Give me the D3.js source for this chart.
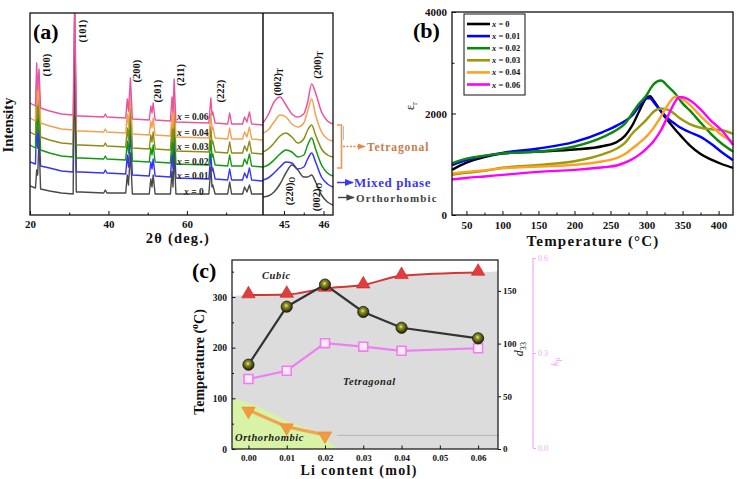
<!DOCTYPE html>
<html><head><meta charset="utf-8">
<script src="https://cdn.jsdelivr.net/npm/d3@7"></script>
<style>
body{margin:0;background:#fff;}
svg text{font-family:"Liberation Serif","Times New Roman",serif;}
</style></head><body>
<svg id="chart" width="744" height="479"></svg>
<script>
// ================= DATA =================
// (a) XRD patterns (stacked, arbitrary units)
const xrdSeries = ["0", "0.01", "0.02", "0.03", "0.04", "0.06"];
const xrdAngles = [20,21.4,21.7,21.95,22.3,22.7,25,28,31.0,31.4,31.8,33,38.8,39.2,39.6,44.4,44.8,45.1,45.6,46.1,50.4,50.8,51.1,51.4,51.9,55.8,56.2,56.45,56.75,57.2,65.6,66.1,66.4,66.6,67.2,70.4,70.9,71.4,74.2,74.7,75.3,75.95,76.5,79.4];
const xrd_x000 = [29,27,45,40,75,26,24,22,21,168,23,23,22,25,22,22,40,30,62,21,21,36,28,40,21,21,44,28,62,21,21,48,28,30,21,21,33,21,21,28,23,30,21,21];
const xrd_x001 = [53,51,94,67,88,49,47,44,43,180,43,43,42,45,42,41,60,48,82,40,39,53,46,56,39,38,62,46,80,37,36,61,44,47,36,35,46,35,35,42,37,47,35,34];
const xrd_x002 = [70,67,110,83,104,65,62,59,58,190,57,57,56,59,56,55,74,62,97,54,53,67,60,70,53,52,76,60,94,51,50,75,58,61,50,49,60,49,49,56,51,61,49,48];
const xrd_x003 = [83,80,123,96,117,78,75,72,71,200,70,70,69,72,69,68,87,75,110,67,66,80,73,83,66,65,89,73,107,64,63,88,71,74,63,62,73,62,62,69,64,74,62,61];
const xrd_x004 = [97,94,137,110,131,92,89,86,85,205,84,84,83,86,83,82,101,89,122,81,80,94,87,97,80,79,101,87,119,78,77,101,85,88,77,76,87,76,76,83,78,88,76,75];
const xrd_x006 = [112,109,152,125,146,107,104,101,100,222,99,99,98,101,98,97,116,104,137,96,95,109,102,112,95,94,118,102,136,93,92,117,100,103,92,91,102,91,91,98,93,103,91,90];
// (a) magnified 44.5-46.2 deg window
const xrdZoomAngles = [44.47,44.6,44.75,44.9,45.05,45.2,45.35,45.5,45.6,45.7,45.8,45.95,46.1,46.24];
const xrdZ_x000 = [18,19,23,31,42,50,45,38,38,40,33,20,13,10];
const xrdZ_x001 = [35,37,42,48,53,52,46,48,56,62,53,38,31,28];
const xrdZ_x002 = [48,50,55,61,65,63,58,60,70,77,66,50,42,39];
const xrdZ_x003 = [63,66,72,79,82,78,72,76,85,90,80,66,60,58];
const xrdZ_x004 = [82,85,93,100,98,91,88,92,104,116,100,83,76,74];
const xrdZ_x006 = [92,100,113,118,110,101,98,101,113,131,122,103,94,91];
const xrdTicksMain = [20, 40, 60];
const xrdTicksMinor = [30, 50, 70];
const xrdTicksZoom = [45, 46];
const xrdTicksZoomMinor = [45.5];
const peakLabels = ["(100)", "(101)", "(200)", "(201)", "(211)", "(222)"];

// (b) dielectric permittivity vs temperature
const tempB = [30,50,75,100,150,200,240,260,270,280,290,300,305,310,320,330,340,345,350,360,375,390,405,420];
const eps_x000 = [890,1030,1140,1210,1250,1290,1360,1450,1560,1760,2050,2310,2340,2250,2040,1850,1680,1600,1520,1370,1200,1090,1000,930];
const eps_x001 = [985,1080,1160,1225,1310,1440,1640,1770,1850,1960,2150,2300,2300,2220,2050,1900,1790,1740,1700,1630,1540,1400,1230,1080];
const eps_x002 = [1018,1110,1170,1215,1250,1350,1540,1690,1800,2000,2200,2360,2480,2580,2650,2530,2390,2290,2200,2060,1820,1590,1400,1250];
const eps_x003 = [790,830,870,930,985,1060,1200,1320,1420,1600,1740,1880,1960,2040,2100,2070,1980,1920,1870,1790,1720,1690,1670,1600];
const eps_x004 = [820,850,880,920,955,990,1060,1130,1200,1310,1420,1550,1630,1720,1940,2180,2330,2320,2280,2170,1950,1750,1570,1440];
const eps_x006 = [700,730,760,790,850,890,940,980,1030,1100,1190,1310,1380,1460,1670,1960,2240,2320,2320,2260,2080,1850,1660,1380];
const tempTicks = [50,100,150,200,250,300,350,400];
const tempTicksMinor = [75,125,175,225,275,325,375];
const epsTicks = [0, 2000, 4000];
const epsTicksMinor = [1000, 3000];

// (c) phase diagram and properties vs Li content
const liContent = [0, 0.01, 0.02, 0.03, 0.04, 0.06];
const tC  = [304, 305, 317, 323.5, 342, 348.5];
const d33 = [80, 135, 156, 130, 115, 105];
const kp  = [0.218, 0.244, 0.331, 0.320, 0.307, 0.315];
const liOT = [0, 0.01, 0.02];
const tOT  = [77, 44, 28];
const cubicEdgeT = [302, 351];
const orthoEdgeLi = [-0.0043, 0, 0.01, 0.02, 0.0232];
const orthoEdgeT  = [100, 91, 56, 22, 0];
const roomT = 27;
const liTicks = [0,0.01,0.02,0.03,0.04,0.05,0.06];
const tTicksC = [0,100,200,300];
const tTicksCMinor = [50,150,250,350];
const d33Ticks = [0,50,100,150];
const kpTicks = [0,0.3,0.6];

// ================= DRAWING =================
const svg = d3.select("#chart");
const FONT = '"Liberation Serif","Times New Roman",serif';
const defs = svg.append("defs");

function styleAxis(g, size, color) {
  g.attr("font-family", FONT).attr("font-size", size);
  g.select(".domain").remove();
  g.selectAll("text").attr("font-weight", "bold").attr("fill", color || "#111");
  g.selectAll("line").attr("stroke", color || "#111").attr("stroke-width", 1);
}
function marker(id, color) {
  defs.append("marker").attr("id", id).attr("viewBox", "0 0 10 10").attr("refX", 9).attr("refY", 5)
    .attr("markerWidth", 6).attr("markerHeight", 6).attr("orient", "auto")
    .append("path").attr("d", "M0,1 L10,5 L0,9 Z").attr("fill", color);
}
marker("arO", "#e58b47"); marker("arB", "#3a3af0"); marker("arG", "#444");

// ---------- Panel (a) ----------
const A = {l:30, r:333, t:13, b:215, div:263};
const xa1 = d3.scaleLinear().domain([20, 79.4]).range([A.l, A.div]);
const xa2 = d3.scaleLinear().domain([44.47, 46.24]).range([A.div, A.r]);
const ya = d3.scaleLinear().domain([0, 202]).range([A.b, A.t]);
const xrdColors = ["#4a4a4a", "#3434ff", "#109a10", "#8c8c14", "#f2a24e", "#e8559f"];
const xrdMain = [xrd_x000, xrd_x001, xrd_x002, xrd_x003, xrd_x004, xrd_x006];
const xrdZoom = [xrdZ_x000, xrdZ_x001, xrdZ_x002, xrdZ_x003, xrdZ_x004, xrdZ_x006];
defs.append("clipPath").attr("id", "clipA1").append("rect")
  .attr("x", A.l).attr("y", A.t).attr("width", A.div - A.l).attr("height", A.b - A.t);
defs.append("clipPath").attr("id", "clipA2").append("rect")
  .attr("x", A.div).attr("y", A.t).attr("width", A.r - A.div).attr("height", A.b - A.t);
const lineA1 = d3.line().x((d, i) => xa1(xrdAngles[i])).y(d => ya(d));
const lineA2 = d3.line().curve(d3.curveMonotoneX).x((d, i) => xa2(xrdZoomAngles[i])).y(d => ya(d));
const orderA = [1, 2, 3, 4, 0, 5];
const gA1 = svg.append("g").attr("clip-path", "url(#clipA1)");
const gA2 = svg.append("g").attr("clip-path", "url(#clipA2)");
orderA.forEach(k => {
  gA1.append("path").attr("d", lineA1(xrdMain[k])).attr("fill", "none")
    .attr("stroke", xrdColors[k]).attr("stroke-width", 1.4).attr("stroke-linejoin", "round");
  gA2.append("path").attr("d", lineA2(xrdZoom[k])).attr("fill", "none")
    .attr("stroke", xrdColors[k]).attr("stroke-width", 1.5);
});
svg.append("rect").attr("x", A.l).attr("y", A.t).attr("width", A.r - A.l).attr("height", A.b - A.t)
  .attr("fill", "none").attr("stroke", "#111").attr("stroke-width", 1.3);
svg.append("line").attr("x1", A.div).attr("x2", A.div).attr("y1", A.t).attr("y2", A.b)
  .attr("stroke", "#111").attr("stroke-width", 1.5);
svg.append("g").attr("transform", `translate(0,${A.b})`)
  .call(d3.axisBottom(xa1).tickValues(xrdTicksMain).tickSize(-4).tickPadding(5).tickFormat(d3.format("d")))
  .call(g => styleAxis(g, 11));
svg.append("g").attr("transform", `translate(0,${A.b})`)
  .call(d3.axisBottom(xa1).tickValues(xrdTicksMinor).tickSize(-2.5).tickFormat(""))
  .call(g => styleAxis(g, 11));
svg.append("g").attr("transform", `translate(0,${A.b})`)
  .call(d3.axisBottom(xa2).tickValues(xrdTicksZoom).tickSize(-4).tickPadding(5).tickFormat(d3.format("d")))
  .call(g => styleAxis(g, 11));
svg.append("g").attr("transform", `translate(0,${A.b})`)
  .call(d3.axisBottom(xa2).tickValues(xrdTicksZoomMinor).tickSize(-2.5).tickFormat(""))
  .call(g => styleAxis(g, 11));

// rotated texts helper
function rotText(x, y, parts, size, fill, weight) {
  const t = svg.append("text").attr("transform", `translate(${x},${y}) rotate(-90)`)
    .attr("text-anchor", "middle").attr("dominant-baseline", "central")
    .attr("font-size", size).attr("font-weight", weight || "bold").attr("fill", fill || "#111");
  parts.forEach(p => {
    const s = t.append("tspan").text(p.t);
    if (p.sub) s.attr("font-size", size * 0.7).attr("dy", size * 0.3);
    if (p.sup) s.attr("font-size", size * 0.7).attr("dy", -size * 0.35);
    if (p.dy) s.attr("dy", p.dy);
    if (p.it) s.attr("font-style", "italic");
  });
  return t;
}
const peakLabelPos = [[46, 65], [82, 31], [136, 71], [157, 91], [180, 75], [220, 91]];
peakLabels.forEach((s, i) => rotText(peakLabelPos[i][0], peakLabelPos[i][1], [{t: s}], 10.5));
rotText(277, 82, [{t: "(002)"}, {t: "T", sub: true}], 10.5);
rotText(317, 65, [{t: "(200)"}, {t: "T", sub: true}], 10.5);
rotText(289, 191, [{t: "(220)"}, {t: "O", sub: true}], 10.5);
rotText(316, 197, [{t: "(002)"}, {t: "O", sub: true}], 10.5);
rotText(8, 125, [{t: "Intensity"}], 14.5);

svg.append("text").attr("x", 33).attr("y", 39).attr("font-size", 22).attr("font-weight", "bold").text("(a)");

const xrdLabelPos = [[184, 195], [177, 179], [177, 165], [177, 150], [177, 136], [177, 120]];
xrdSeries.forEach((s, i) => {
  const t = svg.append("text").attr("x", xrdLabelPos[i][0]).attr("y", xrdLabelPos[i][1])
    .attr("font-size", 9.5).attr("font-weight", "bold").attr("fill", "#222");
  t.append("tspan").attr("font-style", "italic").text("x");
  t.append("tspan").text(" = " + s);
});
svg.append("text").attr("x", 178).attr("y", 243).attr("text-anchor", "middle")
  .attr("font-size", 14.5).attr("font-weight", "bold").attr("letter-spacing", 1.2).attr("fill", "#111")
  .text("2θ (deg.)");
// phase annotations
svg.append("path").attr("d", "M337,125 H341.5 V168 H337").attr("fill", "none")
  .attr("stroke", "#ee9650").attr("stroke-width", 1.6);
svg.append("line").attr("x1", 343.5).attr("x2", 343.5).attr("y1", 126).attr("y2", 140)
  .attr("stroke", "#7fb6ff").attr("stroke-width", 0.8);
svg.append("line").attr("x1", 343).attr("x2", 365).attr("y1", 146.5).attr("y2", 146.5)
  .attr("stroke", "#e58b47").attr("stroke-width", 1.3).attr("stroke-dasharray", "2,1.5").attr("marker-end", "url(#arO)");
svg.append("text").attr("x", 367).attr("y", 150.5).attr("font-size", 11.5).attr("font-weight", "bold")
  .attr("letter-spacing", 0.9).attr("fill", "#c97b4a").text("Tetragonal");
svg.append("line").attr("x1", 337).attr("x2", 353).attr("y1", 182.5).attr("y2", 182.5)
  .attr("stroke", "#3a3af0").attr("stroke-width", 1.5).attr("marker-end", "url(#arB)");
svg.append("text").attr("x", 354).attr("y", 187).attr("font-size", 13).attr("font-weight", "bold")
  .attr("letter-spacing", 0.6).attr("fill", "#3a3af0").text("Mixed phase");
svg.append("line").attr("x1", 338).attr("x2", 354).attr("y1", 197.5).attr("y2", 197.5)
  .attr("stroke", "#444").attr("stroke-width", 1.4).attr("marker-end", "url(#arG)");
svg.append("text").attr("x", 356).attr("y", 201.5).attr("font-size", 11).attr("font-weight", "bold")
  .attr("letter-spacing", 1.1).attr("fill", "#444").text("Orthorhombic");

// ---------- Panel (b) ----------
const B = {l:452, r:733, t:12, b:215};
const xb = d3.scaleLinear().domain([30, 420]).range([B.l, B.r]);
const yb = d3.scaleLinear().domain([0, 4000]).range([B.b, B.t]);
const dielColors = ["#000000", "#0000ff", "#0a8a0a", "#9a9a10", "#ffa020", "#ff00ff"];
const epsSeries = [eps_x000, eps_x001, eps_x002, eps_x003, eps_x004, eps_x006];
const lineB = d3.line().curve(d3.curveMonotoneX).x((d, i) => xb(tempB[i])).y(d => yb(d));
epsSeries.forEach((s, k) => {
  svg.append("path").attr("d", lineB(s)).attr("fill", "none").attr("stroke", dielColors[k])
    .attr("stroke-width", 2.4).attr("stroke-linejoin", "round");
});
svg.append("rect").attr("x", B.l).attr("y", B.t).attr("width", B.r - B.l).attr("height", B.b - B.t)
  .attr("fill", "none").attr("stroke", "#111").attr("stroke-width", 1.3);
svg.append("g").attr("transform", `translate(0,${B.b})`)
  .call(d3.axisBottom(xb).tickValues(tempTicks).tickSize(-4).tickPadding(6))
  .call(g => styleAxis(g, 11));
svg.append("g").attr("transform", `translate(0,${B.b})`)
  .call(d3.axisBottom(xb).tickValues(tempTicksMinor).tickSize(-2.5).tickFormat(""))
  .call(g => styleAxis(g, 11));
svg.append("g").attr("transform", `translate(${B.l},0)`)
  .call(d3.axisLeft(yb).tickValues(epsTicks).tickSize(-4).tickPadding(5).tickFormat(d3.format("d")))
  .call(g => styleAxis(g, 11));
svg.append("g").attr("transform", `translate(${B.l},0)`)
  .call(d3.axisLeft(yb).tickValues(epsTicksMinor).tickSize(-2.5).tickFormat(""))
  .call(g => styleAxis(g, 11));
svg.append("text").attr("x", 413).attr("y", 38).attr("font-size", 22).attr("font-weight", "bold").text("(b)");
rotText(410, 106, [{t: "ε"}, {t: "r", sub: true}], 12, "#111", "normal");
svg.append("text").attr("x", 593).attr("y", 246).attr("text-anchor", "middle").attr("font-size", 15)
  .attr("font-weight", "bold").attr("letter-spacing", 1.2).attr("fill", "#111").text("Temperature (°C)");
// legend
const lg = svg.append("g");
lg.append("rect").attr("x", 464).attr("y", 14).attr("width", 61).attr("height", 81)
  .attr("fill", "#fff").attr("stroke", "#111").attr("stroke-width", 1);
xrdSeries.forEach((s, i) => {
  const yy = 24 + i * 12.1;
  lg.append("line").attr("x1", 467).attr("x2", 490).attr("y1", yy).attr("y2", yy)
    .attr("stroke", dielColors[i]).attr("stroke-width", 2.6);
  const t = lg.append("text").attr("x", 492).attr("y", yy + 3).attr("font-size", 8.5)
    .attr("font-weight", "bold").attr("fill", "#111");
  t.append("tspan").attr("font-style", "italic").text("x");
  t.append("tspan").text(" = " + s);
});

// ---------- Panel (c) ----------
const C = {l:232, r:498, t:260, b:449};
const xc = d3.scaleLinear().domain([-0.0043, 0.0652]).range([C.l, C.r]);
const ycT = d3.scaleLinear().domain([0, 373]).range([C.b, C.t]);
const ycD = d3.scaleLinear().domain([0, 179.3]).range([C.b, C.t]);
const ycK = d3.scaleLinear().domain([0, 0.6]).range([448, 258]);
defs.append("clipPath").attr("id", "clipC").append("rect")
  .attr("x", C.l).attr("y", C.t).attr("width", C.r - C.l).attr("height", C.b - C.t);
const gC = svg.append("g").attr("clip-path", "url(#clipC)");
const grayPts = [[xc.domain()[0], cubicEdgeT[0]]].concat(liContent.map((l, i) => [l, tC[i]]), [[xc.domain()[1], cubicEdgeT[1]]]);
gC.append("path").attr("d", d3.area().curve(d3.curveMonotoneX).x(d => xc(d[0])).y0(C.b).y1(d => ycT(d[1]))(grayPts))
  .attr("fill", "#dcdcdc");
const orthoPts = orthoEdgeLi.map((l, i) => [l, orthoEdgeT[i]]);
gC.append("path").attr("d", d3.area().curve(d3.curveMonotoneX).x(d => xc(d[0])).y0(C.b).y1(d => ycT(d[1]))(orthoPts))
  .attr("fill", "#d8f2a6");
gC.append("line").attr("x1", xc(orthoEdgeLi[orthoEdgeLi.length - 1])).attr("x2", C.r)
  .attr("y1", ycT(roomT)).attr("y2", ycT(roomT)).attr("stroke", "#b4b4b4").attr("stroke-width", 1);

// sphere gradient
const rg = defs.append("radialGradient").attr("id", "sph").attr("cx", "45%").attr("cy", "40%").attr("r", "60%");
rg.append("stop").attr("offset", "0%").attr("stop-color", "#eef070");
rg.append("stop").attr("offset", "30%").attr("stop-color", "#8e9222");
rg.append("stop").attr("offset", "100%").attr("stop-color", "#1e1e08");

// Tc line (red triangles)
svg.append("path").attr("d", d3.line().curve(d3.curveMonotoneX).x((d, i) => xc(liContent[i])).y(d => ycT(d))(tC))
  .attr("fill", "none").attr("stroke", "#d43535").attr("stroke-width", 2);
// kp line (pink squares)
svg.append("path").attr("d", d3.line().x((d, i) => xc(liContent[i])).y(d => ycK(d))(kp))
  .attr("fill", "none").attr("stroke", "#f07ef0").attr("stroke-width", 2.2);
// T_O-T line (orange)
svg.append("path").attr("d", d3.line().x((d, i) => xc(liOT[i])).y(d => ycT(d))(tOT))
  .attr("fill", "none").attr("stroke", "#f2a452").attr("stroke-width", 3.2);
// d33 line (black)
svg.append("path").attr("d", d3.line().x((d, i) => xc(liContent[i])).y(d => ycD(d))(d33))
  .attr("fill", "none").attr("stroke", "#333").attr("stroke-width", 2.2);

const triUp = d3.symbol().type(d3.symbolTriangle).size(78);
tC.forEach((v, i) => svg.append("path").attr("d", triUp())
  .attr("transform", `translate(${xc(liContent[i])},${ycT(v) - 1})`).attr("fill", "#e23c3c").attr("stroke", "#c02828").attr("stroke-width", 0.6));
tOT.forEach((v, i) => svg.append("path").attr("d", triUp())
  .attr("transform", `translate(${xc(liOT[i])},${ycT(v) + 1}) rotate(180)`).attr("fill", "#f39a3e").attr("stroke", "#e08a30").attr("stroke-width", 0.6));
const sq = d3.symbol().type(d3.symbolSquare).size(80);
kp.forEach((v, i) => svg.append("path").attr("d", sq())
  .attr("transform", `translate(${xc(liContent[i])},${ycK(v)})`).attr("fill", "#fce9fc").attr("stroke", "#f07ef0").attr("stroke-width", 1.6));
d33.forEach((v, i) => svg.append("circle").attr("cx", xc(liContent[i])).attr("cy", ycD(v)).attr("r", 5.6)
  .attr("fill", "url(#sph)").attr("stroke", "#1a1a1a").attr("stroke-width", 0.8));

svg.append("rect").attr("x", C.l).attr("y", C.t).attr("width", C.r - C.l).attr("height", C.b - C.t)
  .attr("fill", "none").attr("stroke", "#111").attr("stroke-width", 1.2);
svg.append("g").attr("transform", `translate(0,${C.b})`)
  .call(d3.axisBottom(xc).tickValues(liTicks).tickSize(-3.5).tickPadding(6).tickFormat(d3.format(".2f")))
  .call(g => styleAxis(g, 9));
svg.append("g").attr("transform", `translate(${C.l},0)`)
  .call(d3.axisLeft(ycT).tickValues(tTicksC).tickSize(-3.5).tickPadding(5).tickFormat(d3.format("d")))
  .call(g => styleAxis(g, 9.5));
svg.append("g").attr("transform", `translate(${C.l},0)`)
  .call(d3.axisLeft(ycT).tickValues(tTicksCMinor).tickSize(-2).tickFormat(""))
  .call(g => styleAxis(g, 9.5));
svg.append("g").attr("transform", `translate(${C.r},0)`)
  .call(d3.axisRight(ycD).tickValues(d33Ticks).tickSize(3).tickPadding(2).tickFormat(d3.format("d")))
  .call(g => styleAxis(g, 9));
// kp axis
svg.append("line").attr("x1", 533).attr("x2", 533).attr("y1", ycK(0.6)).attr("y2", ycK(0))
  .attr("stroke", "#f4a8f4").attr("stroke-width", 1.2);
svg.append("g").attr("transform", "translate(533,0)")
  .call(d3.axisRight(ycK).tickValues(kpTicks).tickSize(3).tickPadding(2).tickFormat(d3.format(".1f")))
  .call(g => { styleAxis(g, 8, "#f4a8f4"); g.selectAll("text").attr("font-weight", "normal"); });

svg.append("text").attr("x", 192).attr("y", 278).attr("font-size", 22).attr("font-weight", "bold").text("(c)");
rotText(199, 362, [{t: "Temperature ("}, {t: "o", sup: true}, {t: "C)", dy: 14 * 0.35}], 14);
rotText(519, 349, [{t: "d", it: true}, {t: "33", sub: true}], 12, "#111", "normal");
rotText(554, 362, [{t: "k", it: true}, {t: "p", sub: true}], 11, "#f4a8f4", "normal");
svg.append("text").attr("x", 359).attr("y", 475).attr("text-anchor", "middle").attr("font-size", 14)
  .attr("font-weight", "bold").attr("letter-spacing", 1.3).attr("fill", "#111").text("Li content (mol)");
[["Cubic", 262, 279], ["Tetragonal", 343, 385], ["Orthorhombic", 235, 441]].forEach(d => {
  svg.append("text").attr("x", d[1]).attr("y", d[2]).attr("font-size", 10.5).attr("font-weight", "bold")
    .attr("font-style", "italic").attr("letter-spacing", 0.6).attr("fill", "#222").text(d[0]);
});
</script></body></html>
